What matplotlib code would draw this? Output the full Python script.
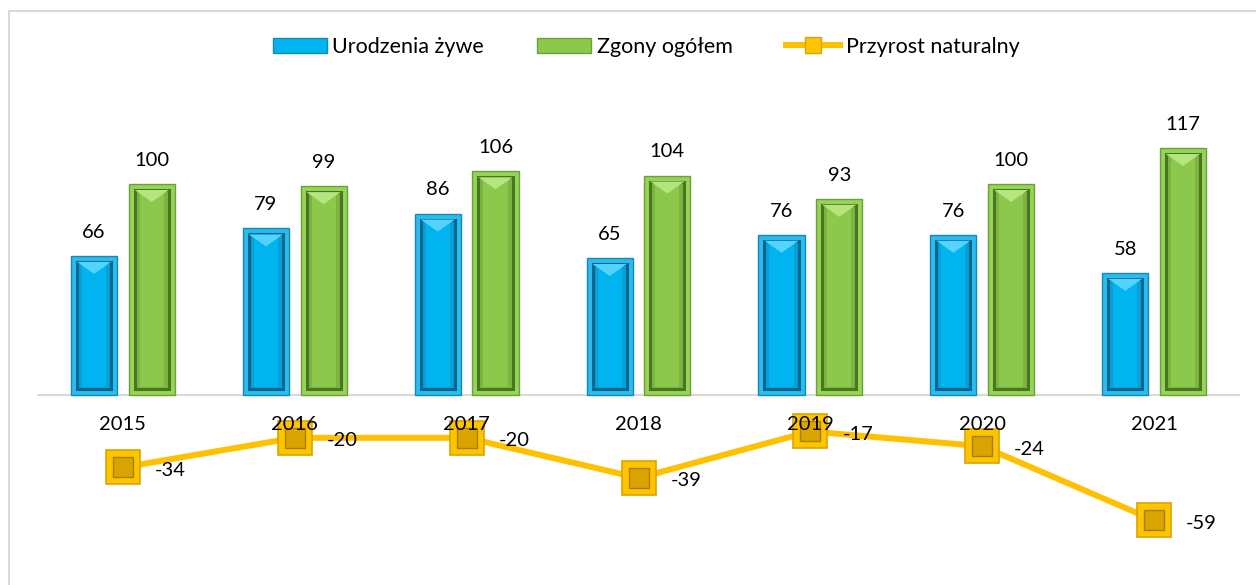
import matplotlib
matplotlib.use("Agg")
import matplotlib.pyplot as plt
from matplotlib.lines import Line2D
from matplotlib.patches import Patch, Polygon
import numpy as np

years = ["2015", "2016", "2017", "2018", "2019", "2020", "2021"]
births = [66, 79, 86, 65, 76, 76, 58]
deaths = [100, 99, 106, 104, 93, 100, 117]
growth = [-34, -20, -20, -39, -17, -24, -59]

plt.rcParams['font.family'] = ['Lato', 'DejaVu Sans']

W, H = 1256, 585
fig = plt.figure(figsize=(W / 100, H / 100), dpi=100)
ax = fig.add_axes([37 / W, 0.0528, 1203 / W, 0.7773])
ax.set_xlim(-0.5, 6.5)
ax.set_ylim(-75, 140)
ax.axis('off')

x = np.arange(len(years))
bw = 0.268
off = 0.168
px_y = 1 / 2.115      # data units per pixel (y)
px_x = 1 / 171.8      # data units per pixel (x)

def draw_bars(xc, vals, outer, edge, inner, inner_edge, tri, center):
    ax.bar(xc, vals, width=bw, color=outer, edgecolor=edge, linewidth=1, zorder=2)
    inset_x = 6 * px_x
    inset_y = 6 * px_y
    for xi, v in zip(xc, vals):
        ax.bar(xi, v - 2 * inset_y, bottom=inset_y, width=bw - 2 * inset_x,
               color=inner, edgecolor=inner_edge, linewidth=2.2, zorder=3)
        ax.bar(xi, v - 2 * inset_y - 4 * px_y, bottom=inset_y + 2 * px_y,
               width=bw - 2 * inset_x - 10 * px_x,
               color=center, edgecolor='none', linewidth=0, zorder=3.5)
        l = xi - bw / 2 + inset_x
        r = xi + bw / 2 - inset_x
        top = v - inset_y
        ax.add_patch(Polygon([[l, top], [r, top], [xi, top - 12 * px_y]],
                             closed=True, facecolor=tri, edgecolor='none', zorder=4))

draw_bars(x - off, births, '#2ABCEE', '#1689B8', '#0A9FD6', '#08678F', '#55D3FF', '#00B4F0')
draw_bars(x + off, deaths, '#96D455', '#6E9F3B', '#7DB340', '#4A7522', '#B6E57E', '#8CC84B')

ax.axhline(0, color='#D9D9D9', linewidth=1.5, zorder=1)

for xi, v in zip(x - off, births):
    ax.annotate(str(v), (xi, v), xytext=(0, 17), textcoords='offset points',
                ha='center', va='center', fontsize=14.5, color='#000000', zorder=6)
for xi, v in zip(x + off, deaths):
    ax.annotate(str(v), (xi, v), xytext=(0, 17), textcoords='offset points',
                ha='center', va='center', fontsize=14.5, color='#000000', zorder=6)

ax.plot(x, growth, color='#FFC000', linewidth=4.3, zorder=5, solid_capstyle='round')
ax.plot(x, growth, linestyle='none', marker='s', markersize=25,
        markerfacecolor='#FFC400', markeredgecolor='#D9A400', markeredgewidth=1.2, zorder=6)
ax.plot(x, growth, linestyle='none', marker='s', markersize=14,
        markerfacecolor='#D9A300', markeredgecolor='#A87E00', markeredgewidth=1.0, zorder=7)

for xi, v in zip(x, growth):
    ax.annotate(str(v), (xi, v), xytext=(23, -2), textcoords='offset points',
                ha='left', va='center', fontsize=14.5, color='#000000', zorder=8)

for xi, y in zip(x, years):
    ax.text(xi, -13.7, y, ha='center', va='center', fontsize=14.5, color='#000000', zorder=9)

handles = [
    Patch(facecolor='#00B4F0', edgecolor='#1689B8', label='Urodzenia żywe'),
    Patch(facecolor='#8CC84B', edgecolor='#6E9F3B', label='Zgony ogółem'),
    Line2D([0], [0], color='#FFC000', linewidth=4.3, marker='s', markersize=12,
           markerfacecolor='#FFC400', markeredgecolor='#D9A400', label='Przyrost naturalny'),
]
fig.legend(handles=handles, loc='center', bbox_to_anchor=(646 / W, 1 - 47 / H), ncol=3,
           frameon=False, fontsize=15.5, handlelength=2.5, handleheight=0.7,
           handletextpad=0.25, columnspacing=2.5)

# chart border (left and top)
fig.add_artist(Line2D([8.5 / W, 8.5 / W], [0, 1 - 10.5 / H], transform=fig.transFigure,
                      color='#D9D9D9', linewidth=1.5))
fig.add_artist(Line2D([8.5 / W, 1], [1 - 10.5 / H, 1 - 10.5 / H], transform=fig.transFigure,
                      color='#D9D9D9', linewidth=1.5))

fig.savefig('out.png', dpi=100)
